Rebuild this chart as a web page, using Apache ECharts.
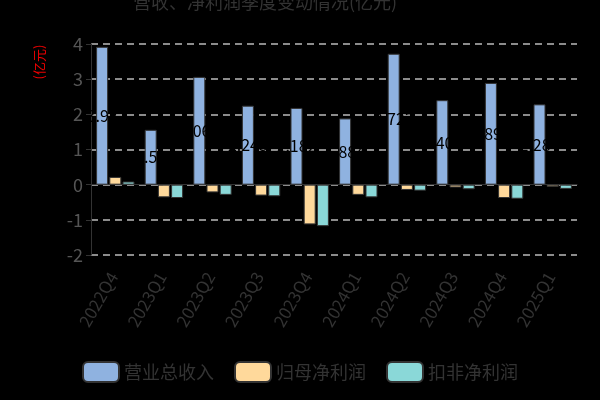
<!DOCTYPE html>
<html><head><meta charset="utf-8">
<script src="https://cdn.jsdelivr.net/npm/echarts@6/dist/echarts.min.js"></script>
<style>html,body{margin:0;padding:0;background:#000;}#c{width:600px;height:400px;}</style>
</head><body><div id="c"></div>
<script>
var categories = ['2022Q4','2023Q1','2023Q2','2023Q3','2023Q4','2024Q1','2024Q2','2024Q3','2024Q4','2025Q1'];
var revenue = [3.92, 1.56, 3.065, 2.245, 2.182, 1.884, 3.723, 2.402, 2.893, 2.284];
var netProfit = [0.22, -0.36, -0.22, -0.31, -1.13, -0.29, -0.15, -0.08, -0.38, -0.06];
var deductedProfit = [0.09, -0.38, -0.29, -0.33, -1.18, -0.36, -0.17, -0.13, -0.40, -0.12];
var yTicks = [-2, -1, 0, 1, 2, 3, 4];

var chart = echarts.init(document.getElementById('c'));
var font = 'Noto Sans CJK SC';
chart.setOption({
  backgroundColor: '#000',
  animation: false,
  title: {text: '营收、净利润季度变动情况(亿元)', left: 128, top: -12,
    textStyle: {color: '#333', fontSize: 18, fontWeight: 'normal', fontFamily: font}},
  legend: {bottom: 12, itemWidth: 36, itemHeight: 20, itemGap: 20,
    textStyle: {color: '#333', fontSize: 18, fontFamily: font},
    data: ['营业总收入','归母净利润','扣非净利润']},
  grid: {left: 91, right: 23, top: 44, bottom: 145, outerBoundsMode: 'none', containLabel: false},
  xAxis: {type: 'category', data: categories,
    axisLine: {onZero: true, lineStyle: {color: '#333'}},
    axisTick: {lineStyle: {color: '#333'}},
    axisLabel: {rotate: 60, color: '#333', fontSize: 17, fontFamily: font, margin: 15, padding: [0, 4, 0, 0]}},
  yAxis: {type: 'value', min: yTicks[0], max: yTicks[yTicks.length-1], interval: 1,
    name: '(亿元)', nameLocation: 'end', nameRotate: 90, nameGap: -18,
    nameTextStyle: {color: '#e00', fontSize: 13, fontFamily: font, align: 'center', verticalAlign: 'bottom', padding: [0,0,45,0]},
    axisLine: {show: true, lineStyle: {color: '#333'}},
    axisTick: {show: true, lineStyle: {color: '#333'}},
    axisLabel: {color: '#555', fontSize: 18, fontFamily: font},
    splitLine: {lineStyle: {color: '#bbb', type: [7, 5], width: 1.5}}},
  series: [
    {name: '营业总收入', type: 'bar', data: revenue, barWidth: 12, barGap: '10%',
      itemStyle: {color: '#8fb2e0', borderColor: '#333', borderWidth: 1},
      label: {show: true, position: 'inside', color: '#000', fontSize: 16, fontFamily: font}},
    {name: '归母净利润', type: 'bar', data: netProfit, barWidth: 12, barGap: '10%',
      itemStyle: {color: '#ffd99b', borderColor: '#333', borderWidth: 1}},
    {name: '扣非净利润', type: 'bar', data: deductedProfit, barWidth: 12, barGap: '10%',
      itemStyle: {color: '#8ad8d8', borderColor: '#333', borderWidth: 1}}
  ]
});
</script></body></html>
